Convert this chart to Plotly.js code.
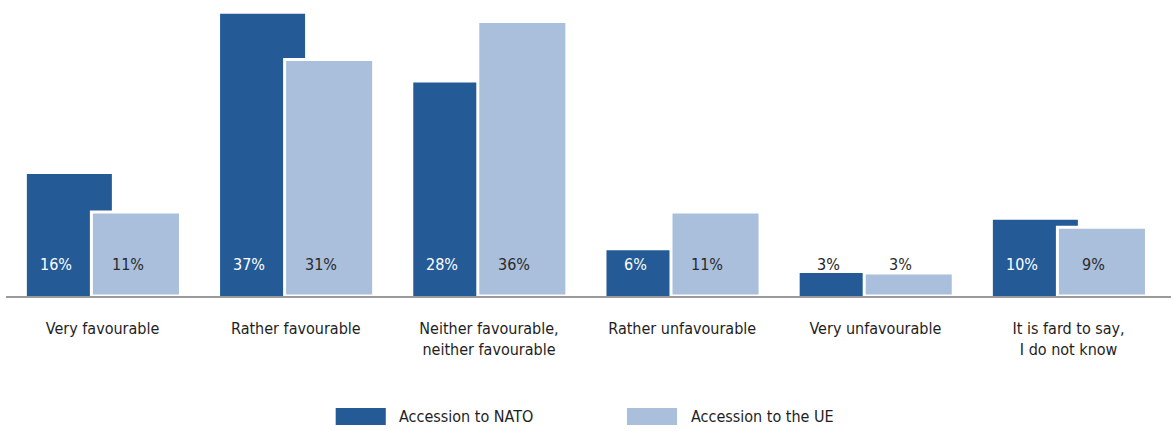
<!DOCTYPE html>
<html>
<head>
<meta charset="utf-8">
<script src="https://cdn.plot.ly/plotly-3.0.1.min.js"></script>
<style>
html,body{margin:0;padding:0;background:#fff;}
#chart{width:1173px;height:431px;}
</style>
</head>
<body>
<div id="chart"></div>
<script>
var categories = ["Very favourable", "Rather favourable", "Neither favourable,<br>neither favourable", "Rather unfavourable", "Very unfavourable", "It is fard to say,<br>I do not know"];
var seriesNames = ["Accession to NATO", "Accession to the UE"];
var natoValues = [16, 37, 28, 6, 3, 10];
var ueValues = [11, 31, 36, 11, 3, 9];
var natoLabels = ["16%", "37%", "28%", "6%", "3%", "10%"];
var ueLabels = ["11%", "31%", "36%", "11%", "3%", "9%"];

var natoColor = "#245b97";
var ueColor = "#a9bfdc";
var FONT = "'DejaVu Sans Condensed', 'Liberation Sans Narrow', sans-serif";

var traces = [
  {
    type: "bar", name: seriesNames[0], x: categories, y: natoValues,
    width: 0.44, offset: -0.392,
    marker: {color: natoColor, line: {color: "#ffffff", width: 0}},
    hoverinfo: "none", showlegend: false
  },
  {
    type: "bar", name: seriesNames[1], x: categories, y: ueValues,
    width: 0.461, offset: -0.058,
    marker: {color: ueColor, line: {color: "#ffffff", width: 3}},
    hoverinfo: "none", showlegend: false
  }
];

var annotations = [];
for (var i = 0; i < categories.length; i++) {
  var natoInside = natoValues[i] > 4;
  annotations.push({
    x: i, y: 4.1, xref: "x", yref: "y", text: natoLabels[i], showarrow: false,
    xshift: -47, yanchor: "middle",
    font: {family: FONT, size: 16, color: natoInside ? "#ffffff" : "#1e1e1e"}
  });
  annotations.push({
    x: i, y: 4.1, xref: "x", yref: "y", text: ueLabels[i], showarrow: false,
    xshift: 25, yanchor: "middle",
    font: {family: FONT, size: 16, color: "#2a2a2a"}
  });
}

// legend (drawn manually with large swatches)
var legendColors = [natoColor, ueColor];
var legendX = [0.283, 0.533];
var shapes = [];
for (var k = 0; k < seriesNames.length; k++) {
  shapes.push({
    type: "rect", xref: "paper", yref: "paper",
    x0: legendX[k], x1: legendX[k] + 0.043, y0: -0.451, y1: -0.392,
    fillcolor: legendColors[k], line: {width: 0}
  });
  annotations.push({
    xref: "paper", yref: "paper", x: legendX[k] + 0.053, y: -0.421,
    xanchor: "left", yanchor: "middle", showarrow: false, text: seriesNames[k],
    font: {family: FONT, size: 16, color: "#1e1e1e"}
  });
}

var layout = {
  width: 1173, height: 431,
  margin: {l: 6, r: 2, t: 10, b: 135},
  paper_bgcolor: "#ffffff", plot_bgcolor: "#ffffff",
  barmode: "overlay",
  showlegend: false,
  xaxis: {
    type: "category", range: [-0.5, 5.53],
    showgrid: false, zeroline: false,
    showline: true, linecolor: "#9a9a9a", linewidth: 2,
    ticks: "", ticklabelstandoff: 17,
    tickfont: {family: FONT, size: 16, color: "#1e1e1e"}
  },
  yaxis: {
    range: [0, 37.5], showgrid: false, zeroline: false,
    showline: false, showticklabels: false, ticks: ""
  },
  annotations: annotations,
  shapes: shapes
};

Plotly.newPlot("chart", traces, layout, {staticPlot: true, displayModeBar: false});
</script>
</body>
</html>
